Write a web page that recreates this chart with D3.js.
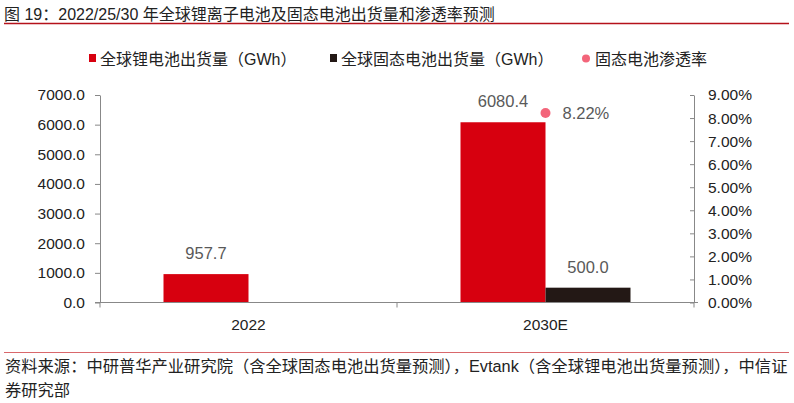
<!DOCTYPE html>
<html><head><meta charset="utf-8">
<script src="https://cdn.jsdelivr.net/npm/d3@7"></script>
<style>
body{margin:0;background:#fff;}
text{font-family:"Liberation Sans","Noto Sans CJK SC",sans-serif;}
</style></head>
<body><svg id="c" width="794" height="403"></svg>
<script>
const categories = ["2022", "2030E"];
const liIonGWh = [957.7, 6080.4];
const solidGWh = [null, 500.0];
const penetration = [null, 8.22];
const leftTicks = [0,1000,2000,3000,4000,5000,6000,7000];
const rightTicks = [0,1,2,3,4,5,6,7,8,9];
const seriesNames = ["全球锂电池出货量（GWh）", "全球固态电池出货量（GWh）", "固态电池渗透率"];
const titleText = "图 19：2022/25/30 年全球锂离子电池及固态电池出货量和渗透率预测";
const sourceLines = ["资料来源：中研普华产业研究院（含全球固态电池出货量预测），Evtank（含全球锂电池出货量预测），中信证", "券研究部"];

const RED = "#d7000f", BLACK = "#231815", PINK = "#f3657a", AXIS = "#888";
const FONT = '"Liberation Sans","Noto Sans CJK SC",sans-serif';
const svg = d3.select("#c");
const L = 100, R = 694, T = 95, B = 302.5;

// title
svg.append("text").attr("x",4).attr("y",20).attr("font-size",16).attr("fill","#222").text(titleText);
svg.append("line").attr("x1",4).attr("x2",789).attr("y1",23.5).attr("y2",23.5).attr("stroke","#b5121b").attr("stroke-width",1.5);

const x = d3.scaleBand().domain(categories).range([L,R]);
const yL = d3.scaleLinear().domain([0,7000]).range([B,T]);
const yR = d3.scaleLinear().domain([0,9]).range([B,T]);
const barW = 85;

// bars
const g = svg.append("g");
categories.forEach((c,i)=>{
  const cx = x(c) + x.bandwidth()/2;
  if (liIonGWh[i]!=null){
    g.append("rect").attr("x",cx-barW).attr("width",barW).attr("y",yL(liIonGWh[i])).attr("height",B-yL(liIonGWh[i])).attr("fill",RED);
    g.append("text").attr("x",cx-barW/2).attr("y",yL(liIonGWh[i])-15).attr("text-anchor","middle").attr("font-size",16.5).attr("fill","#595959").text(liIonGWh[i].toFixed(1));
  }
  if (solidGWh[i]!=null){
    g.append("rect").attr("x",cx).attr("width",barW).attr("y",yL(solidGWh[i])).attr("height",B-yL(solidGWh[i])).attr("fill",BLACK);
    g.append("text").attr("x",cx+barW/2).attr("y",yL(solidGWh[i])-15).attr("text-anchor","middle").attr("font-size",16.5).attr("fill","#595959").text(solidGWh[i].toFixed(1));
  }
  if (penetration[i]!=null){
    g.append("circle").attr("cx",cx).attr("cy",yR(penetration[i])).attr("r",5).attr("fill",PINK);
    g.append("text").attr("x",cx+17).attr("y",yR(penetration[i])+6).attr("font-size",16.5).attr("fill","#595959").text(penetration[i].toFixed(2)+"%");
  }
});

// axes
function styleAxis(sel){
  sel.selectAll("path,line").attr("stroke",AXIS);
  sel.selectAll("text").attr("font-size",15.5).attr("fill","#222").attr("font-family",FONT);
}
const ax1 = svg.append("g").attr("transform",`translate(${L},0)`)
  .call(d3.axisLeft(yL).tickValues(leftTicks).tickFormat(d=>d.toFixed(1)).tickSize(5).tickSizeOuter(0).tickPadding(10));
styleAxis(ax1);
const ax2 = svg.append("g").attr("transform",`translate(${R},0)`)
  .call(d3.axisRight(yR).tickValues(rightTicks).tickFormat(d=>d.toFixed(2)+"%").tickSizeInner(-4).tickSizeOuter(0).tickPadding(14));
styleAxis(ax2);
// x axis
const ax3 = svg.append("g").attr("transform",`translate(0,${B})`);
ax3.append("line").attr("x1",L-5).attr("x2",R+4).attr("stroke",AXIS);
[L, x(categories[1]), R].forEach(v=>ax3.append("line").attr("x1",v).attr("x2",v).attr("y1",0).attr("y2",5).attr("stroke",AXIS));
categories.forEach(c=>ax3.append("text").attr("x",x(c)+x.bandwidth()/2).attr("y",27).attr("text-anchor","middle").attr("font-size",15.5).attr("fill","#222").text(c));

// legend
const lg = svg.append("g");
lg.append("rect").attr("x",89).attr("y",54).attr("width",7).attr("height",8).attr("fill",RED);
lg.append("text").attr("x",100).attr("y",64.5).attr("font-size",16).attr("fill","#222").text(seriesNames[0]);
lg.append("rect").attr("x",330).attr("y",54).attr("width",7).attr("height",8).attr("fill",BLACK);
lg.append("text").attr("x",341).attr("y",64.5).attr("font-size",16).attr("fill","#222").text(seriesNames[1]);
lg.append("circle").attr("cx",586).attr("cy",58.5).attr("r",4).attr("fill",PINK);
lg.append("text").attr("x",595).attr("y",64.5).attr("font-size",16).attr("fill","#222").text(seriesNames[2]);

// footer
svg.append("line").attr("x1",4).attr("x2",789).attr("y1",352.5).attr("y2",352.5).attr("stroke","#d9676b").attr("stroke-width",1.2);
sourceLines.forEach((s,i)=>svg.append("text").attr("x",5).attr("y",372+i*24).attr("font-size",16.3).attr("fill","#222").text(s));
</script></body></html>
